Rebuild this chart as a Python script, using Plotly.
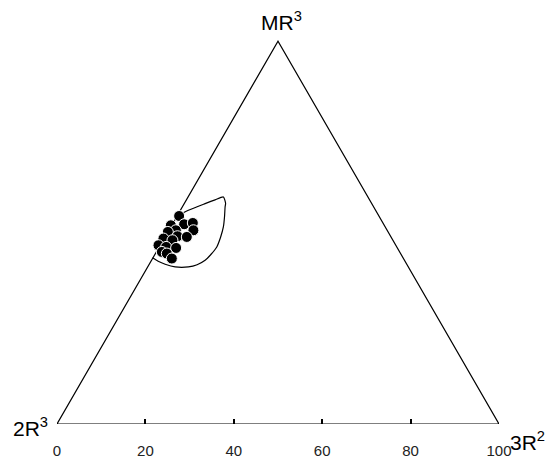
import plotly.graph_objects as go
import math

# Triangle (bottom axis scale 0-100; apex at 50, height of equilateral)
H = 100 * math.sqrt(3) / 2
tri_x = [0, 100, 50, 0]
tri_y = [0, 0, H, 0]

# Data points (position along the 0-100 base, height in the same units)
pt_x = [27.63, 25.76, 28.76, 30.73, 26.89, 30.86, 25.08, 27.25, 29.37,
        24.08, 26.12, 22.96, 24.69, 26.95, 23.72, 24.85, 25.98]
pt_y = [47.06, 44.96, 45.19, 45.48, 43.83, 43.83, 43.45, 42.48, 42.32,
        41.96, 41.57, 40.44, 40.06, 39.83, 38.93, 38.57, 37.44]

# Field boundary (envelope)
env_x = [27.13, 29.73, 33.51, 35.77, 37.64, 38.14, 38.03, 37.91, 37.64,
         37.01, 36.15, 34.86, 33.51, 31.70, 29.73, 26.73, 24.47, 22.89, 21.62]
env_y = [47.0, 48.35, 49.86, 50.72, 51.36, 49.93, 49.10, 47.0, 44.58,
         42.25, 40.06, 38.41, 37.05, 36.04, 35.54, 35.54, 36.15, 36.83, 37.62]

tick_vals = [0, 20, 40, 60, 80, 100]
tick_text = ["0", "20", "40", "60", "80", "100"]

FONT = "Liberation Sans, Arial, sans-serif"

fig = go.Figure()
fig.add_trace(go.Scatter(x=tri_x, y=tri_y, mode="lines",
                         line=dict(color="black", width=1.2),
                         hoverinfo="skip", showlegend=False, cliponaxis=False))
fig.add_trace(go.Scatter(x=env_x, y=env_y, mode="lines",
                         line=dict(color="black", width=1.2, shape="spline", smoothing=0.6),
                         hoverinfo="skip", showlegend=False, cliponaxis=False))
fig.add_trace(go.Scatter(x=pt_x, y=pt_y, mode="markers",
                         marker=dict(color="black", size=11, line=dict(color="white", width=1)),
                         showlegend=False, cliponaxis=False))

font = dict(family=FONT, size=21, color="black")
fig.add_annotation(x=-0.016, y=-0.008, xref="paper", yref="paper", text="2R<sup>3</sup>",
                   showarrow=False, xanchor="right", yanchor="middle", font=font)
fig.add_annotation(x=1.02, y=-0.042, xref="paper", yref="paper", text="3R<sup>2</sup>",
                   showarrow=False, xanchor="left", yanchor="middle", font=font)
fig.add_annotation(x=0.507, y=0.998, xref="paper", yref="paper", text="MR<sup>3</sup>",
                   showarrow=False, xanchor="center", yanchor="middle", font=font)

# The page body adds an 8px offset; the figure is sized to fill the window.
fig.update_layout(
    width=548, height=450,
    margin=dict(l=49, r=57, t=12, b=34, autoexpand=False),
    paper_bgcolor="white", plot_bgcolor="white",
    xaxis=dict(range=[0, 100], tickvals=tick_vals, ticktext=tick_text,
               ticks="inside", ticklen=5, tickcolor="black", tickwidth=1.5,
               showgrid=False, zeroline=False, showline=False, automargin=False,
               ticklabelstandoff=16,
               tickfont=dict(family=FONT, size=15, color="#222")),
    yaxis=dict(range=[0, 404 / 4.42], showgrid=False, zeroline=False, automargin=False,
               showticklabels=False, ticks="", showline=False),
)

fig.write_html("out.html")
